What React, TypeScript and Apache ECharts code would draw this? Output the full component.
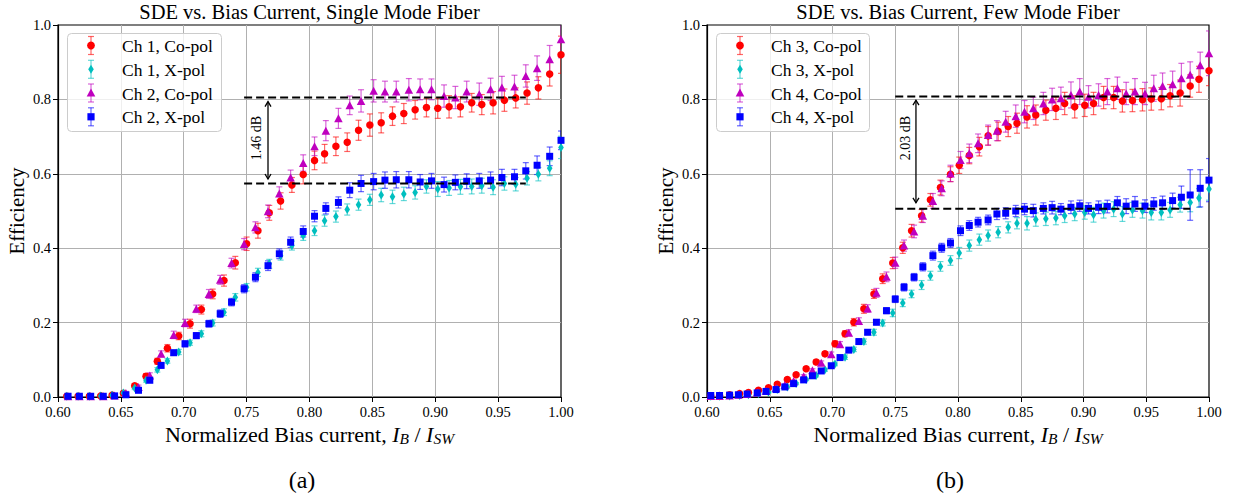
import React, { useEffect, useRef } from "react";
import * as echarts from "echarts";

// ---------- Panel (a): Single Mode Fiber ----------
const xCh1 = [1.000,0.991,0.982,0.973,0.964,0.955,0.946,0.937,0.929,0.920,0.911,0.902,0.893,0.884,0.875,0.866,0.857,0.848,0.839,0.830,0.821,0.812,0.804,0.795,0.786,0.777,0.768,0.759,0.750,0.741,0.732,0.723,0.714,0.705,0.696,0.687,0.679,0.670,0.661,0.652,0.643,0.634,0.625,0.616,0.607];
const ch1Co = [0.920,0.868,0.831,0.817,0.804,0.798,0.791,0.786,0.791,0.780,0.780,0.776,0.778,0.772,0.762,0.755,0.737,0.731,0.717,0.685,0.674,0.654,0.636,0.598,0.570,0.527,0.495,0.447,0.412,0.361,0.313,0.277,0.235,0.197,0.164,0.131,0.096,0.056,0.030,0.010,0.005,0.003,0.002,0.002,0.002];
const ch1CoErr = [0.05,0.032,0.03,0.03,0.027,0.03,0.03,0.027,0.025,0.027,0.03,0.027,0.025,0.025,0.027,0.025,0.027,0.03,0.027,0.025,0.025,0.025,0.025,0.025,0.02,0.022,0.02,0.02,0.018,0.017,0.015,0.013,0.012,0.012,0.01,0.01,0.008,0.007,0.006,0.005,0.004,0.003,0.003,0.003,0.003];
const ch1X = [0.671,0.615,0.599,0.588,0.572,0.574,0.564,0.568,0.566,0.565,0.562,0.559,0.566,0.550,0.546,0.538,0.543,0.530,0.517,0.504,0.485,0.474,0.447,0.434,0.407,0.380,0.358,0.335,0.295,0.268,0.228,0.199,0.170,0.146,0.121,0.097,0.073,0.045,0.024,0.011,0.005,0.003,0.002,0.002,0.002];
const ch1XErr = [0.03,0.02,0.018,0.018,0.018,0.018,0.02,0.02,0.02,0.02,0.02,0.02,0.018,0.018,0.018,0.018,0.018,0.015,0.015,0.015,0.015,0.015,0.013,0.013,0.012,0.012,0.012,0.011,0.01,0.01,0.009,0.008,0.008,0.007,0.007,0.006,0.006,0.005,0.004,0.004,0.003,0.003,0.002,0.002,0.002];

const xCh2 = [1.000,0.991,0.981,0.972,0.963,0.953,0.944,0.935,0.925,0.916,0.907,0.897,0.888,0.879,0.869,0.860,0.851,0.841,0.832,0.823,0.813,0.804,0.795,0.785,0.776,0.767,0.757,0.748,0.738,0.729,0.720,0.710,0.701,0.692,0.682,0.673,0.664,0.654,0.645,0.636,0.626,0.617,0.608];
const ch2Co = [0.962,0.908,0.884,0.863,0.835,0.832,0.827,0.814,0.821,0.805,0.809,0.827,0.827,0.826,0.821,0.821,0.823,0.796,0.784,0.749,0.716,0.674,0.629,0.590,0.547,0.499,0.456,0.411,0.360,0.315,0.277,0.237,0.199,0.167,0.116,0.058,0.027,0.011,0.004,0.002,0.002,0.002,0.002];
const ch2CoErr = [0.05,0.037,0.033,0.03,0.03,0.03,0.03,0.03,0.028,0.03,0.03,0.028,0.028,0.03,0.028,0.028,0.03,0.03,0.025,0.027,0.027,0.025,0.022,0.02,0.018,0.017,0.015,0.015,0.013,0.012,0.012,0.01,0.01,0.01,0.008,0.007,0.005,0.004,0.003,0.002,0.002,0.002,0.002];
const ch2X = [0.690,0.647,0.623,0.608,0.592,0.590,0.583,0.581,0.580,0.577,0.571,0.581,0.578,0.584,0.584,0.583,0.579,0.574,0.556,0.523,0.507,0.486,0.445,0.416,0.385,0.353,0.322,0.291,0.255,0.224,0.197,0.165,0.143,0.119,0.085,0.045,0.018,0.006,0.003,0.002,0.002,0.002,0.002];
const ch2XErr = [0.025,0.025,0.025,0.022,0.02,0.022,0.022,0.02,0.02,0.02,0.02,0.02,0.02,0.022,0.022,0.022,0.022,0.022,0.02,0.015,0.015,0.015,0.015,0.014,0.013,0.013,0.012,0.011,0.01,0.01,0.009,0.008,0.008,0.007,0.007,0.006,0.005,0.004,0.003,0.002,0.002,0.002,0.002];

// ---------- Panel (b): Few Mode Fiber ----------
const xCh3 = [1.000,0.992,0.985,0.977,0.969,0.962,0.954,0.947,0.939,0.931,0.924,0.916,0.908,0.901,0.893,0.885,0.878,0.870,0.862,0.855,0.847,0.840,0.832,0.824,0.817,0.809,0.801,0.794,0.786,0.778,0.771,0.763,0.756,0.748,0.740,0.733,0.725,0.717,0.710,0.702,0.694,0.687,0.679,0.671,0.664,0.656,0.649,0.641,0.633,0.626,0.618,0.610,0.603];
const ch3Co = [0.877,0.854,0.836,0.817,0.810,0.802,0.801,0.799,0.797,0.796,0.805,0.805,0.789,0.784,0.780,0.789,0.776,0.771,0.758,0.753,0.736,0.727,0.714,0.702,0.673,0.649,0.623,0.599,0.563,0.530,0.487,0.447,0.401,0.360,0.318,0.277,0.237,0.201,0.170,0.143,0.116,0.094,0.076,0.060,0.047,0.034,0.025,0.018,0.012,0.009,0.006,0.004,0.003];
const ch3CoErr = [0.04,0.035,0.03,0.035,0.03,0.03,0.03,0.03,0.03,0.03,0.03,0.03,0.03,0.03,0.03,0.03,0.03,0.027,0.027,0.03,0.027,0.027,0.025,0.025,0.025,0.022,0.022,0.02,0.02,0.017,0.017,0.017,0.015,0.015,0.013,0.012,0.012,0.01,0.008,0.008,0.006,0.006,0.005,0.004,0.004,0.003,0.003,0.002,0.002,0.002,0.002,0.002,0.002];
const ch3X = [0.559,0.535,0.523,0.517,0.503,0.496,0.496,0.501,0.503,0.492,0.505,0.501,0.490,0.496,0.492,0.487,0.481,0.479,0.477,0.467,0.467,0.456,0.443,0.434,0.423,0.407,0.387,0.367,0.351,0.326,0.301,0.277,0.253,0.226,0.199,0.174,0.149,0.128,0.107,0.089,0.073,0.058,0.047,0.036,0.027,0.020,0.013,0.009,0.006,0.004,0.003,0.002,0.002];
const ch3XErr = [0.03,0.025,0.025,0.02,0.02,0.02,0.02,0.02,0.02,0.02,0.02,0.02,0.02,0.018,0.018,0.018,0.018,0.018,0.018,0.018,0.015,0.015,0.015,0.015,0.015,0.015,0.015,0.013,0.013,0.012,0.012,0.01,0.01,0.01,0.008,0.008,0.007,0.006,0.006,0.005,0.004,0.004,0.003,0.003,0.003,0.002,0.002,0.002,0.002,0.002,0.002,0.002,0.002];

const xCh4 = [1.000,0.993,0.985,0.978,0.971,0.963,0.956,0.949,0.941,0.934,0.927,0.919,0.912,0.904,0.897,0.890,0.882,0.875,0.868,0.860,0.853,0.846,0.838,0.831,0.824,0.816,0.809,0.802,0.794,0.787,0.780,0.772,0.765,0.757,0.750,0.743,0.735,0.728,0.721,0.713,0.706,0.699,0.691,0.684,0.677,0.669,0.662,0.655,0.647,0.640,0.632,0.625,0.618,0.610,0.603];
const ch4Co = [0.924,0.892,0.866,0.857,0.841,0.836,0.830,0.816,0.821,0.816,0.830,0.821,0.812,0.807,0.821,0.812,0.803,0.800,0.789,0.776,0.767,0.755,0.740,0.716,0.704,0.682,0.655,0.637,0.601,0.561,0.527,0.487,0.445,0.407,0.361,0.323,0.280,0.238,0.204,0.173,0.142,0.115,0.092,0.072,0.056,0.043,0.032,0.024,0.017,0.012,0.008,0.006,0.004,0.003,0.003];
const ch4CoErr = [0.06,0.035,0.035,0.04,0.035,0.035,0.035,0.03,0.035,0.03,0.03,0.035,0.03,0.03,0.035,0.035,0.03,0.03,0.03,0.03,0.03,0.03,0.028,0.027,0.027,0.025,0.025,0.023,0.022,0.02,0.02,0.018,0.017,0.015,0.015,0.013,0.012,0.01,0.009,0.008,0.007,0.006,0.005,0.004,0.004,0.003,0.003,0.002,0.002,0.002,0.002,0.002,0.002,0.002,0.002];
const ch4X = [0.583,0.561,0.543,0.537,0.528,0.522,0.519,0.513,0.519,0.513,0.522,0.512,0.510,0.507,0.514,0.510,0.505,0.509,0.507,0.501,0.505,0.500,0.494,0.492,0.476,0.470,0.461,0.447,0.414,0.401,0.380,0.350,0.322,0.295,0.263,0.232,0.201,0.174,0.149,0.126,0.106,0.084,0.070,0.057,0.046,0.036,0.027,0.020,0.015,0.011,0.008,0.006,0.005,0.004,0.004];
const ch4XErr = [0.058,0.05,0.068,0.03,0.02,0.018,0.017,0.017,0.02,0.02,0.017,0.017,0.017,0.015,0.015,0.017,0.015,0.017,0.015,0.017,0.015,0.015,0.015,0.015,0.013,0.013,0.013,0.013,0.012,0.012,0.012,0.011,0.01,0.01,0.009,0.008,0.007,0.006,0.006,0.005,0.005,0.004,0.004,0.003,0.003,0.003,0.002,0.002,0.002,0.002,0.002,0.002,0.002,0.002,0.002];

// ---------- Annotations ----------
const dashA = [[0.748, 0.972, 0.805], [0.748, 0.972, 0.574]]; // [x1, x2, y]
const dashB = [[0.750, 0.985, 0.808], [0.750, 0.985, 0.506]];
const arrowA = [0.767, 0.794, 0.586, 0.7575, 0.696]; // [x, yTop, yBottom, textX, textY]
const arrowB = [0.7665, 0.798, 0.522, 0.7578, 0.696];
const labelA = "1.46 dB";
const labelB = "2.03 dB";

const titles = ["SDE vs. Bias Current, Single Mode Fiber", "SDE vs. Bias Current, Few Mode Fiber"];
const captions = ["(a)", "(b)"];
const legendA = ["Ch 1, Co-pol", "Ch 1, X-pol", "Ch 2, Co-pol", "Ch 2, X-pol"];
const legendB = ["Ch 3, Co-pol", "Ch 3, X-pol", "Ch 4, Co-pol", "Ch 4, X-pol"];
const xTicks = { min: 0.6, max: 1.0, interval: 0.05 };
const yTicks = { min: 0, max: 1.0, interval: 0.2 };

const FONT = "Liberation Serif, serif";
const RED = "#ff0000";
const CYAN = "#00bfbf";
const MAGENTA = "#bf00bf";
const BLUE = "#0000ff";

type Shape = "circle" | "diamond" | "triangle" | "rect";
const SYM: Record<Shape, any> = {
  circle: 7.5,
  diamond: [5.6, 9],
  triangle: [8.5, 8],
  rect: 7,
};

const GRIDS = [
  { left: 58, top: 25, width: 503, height: 372 },
  { left: 707, top: 25, width: 502, height: 372 },
];

function errRender(color: string) {
  return (params: any, api: any) => {
    const x = api.value(0);
    const p1 = api.coord([x, api.value(2)]);
    const p2 = api.coord([x, api.value(1)]);
    const cw = 3;
    const style = { stroke: color, lineWidth: 1.2, opacity: 0.6 };
    return {
      type: "group",
      children: [
        { type: "line", shape: { x1: p1[0], y1: p1[1], x2: p2[0], y2: p2[1] }, style },
        { type: "line", shape: { x1: p1[0] - cw, y1: p1[1], x2: p1[0] + cw, y2: p1[1] }, style },
        { type: "line", shape: { x1: p2[0] - cw, y1: p2[1], x2: p2[0] + cw, y2: p2[1] }, style },
      ],
    };
  };
}

function seriesPair(gi: number, name: string, xs: number[], ys: number[], es: number[], color: string, shape: Shape) {
  return [
    {
      type: "custom",
      name: name + " err",
      xAxisIndex: gi,
      yAxisIndex: gi,
      clip: true,
      silent: true,
      data: xs.map((x, i) => [x, ys[i] - es[i], ys[i] + es[i]]),
      renderItem: errRender(color),
    },
    {
      type: "scatter",
      name,
      xAxisIndex: gi,
      yAxisIndex: gi,
      clip: true,
      silent: true,
      symbol: shape,
      symbolSize: SYM[shape],
      itemStyle: { color, opacity: 1 },
      data: xs.map((x, i) => [x, ys[i]]),
    },
  ];
}

function dashSeries(gi: number, lines: number[][]) {
  return {
    type: "custom",
    xAxisIndex: gi,
    yAxisIndex: gi,
    silent: true,
    z: 10,
    data: lines,
    renderItem: (params: any, api: any) => {
      const a = api.coord([api.value(0), api.value(2)]);
      const b = api.coord([api.value(1), api.value(2)]);
      return {
        type: "line",
        shape: { x1: a[0], y1: a[1], x2: b[0], y2: b[1] },
        style: { stroke: "#000", lineWidth: 2, lineDash: [8, 4] },
      };
    },
  };
}

function arrowSeries(gi: number, arrow: number[], label: string) {
  return {
    type: "custom",
    xAxisIndex: gi,
    yAxisIndex: gi,
    silent: true,
    z: 10,
    data: [arrow],
    renderItem: (params: any, api: any) => {
      const top = api.coord([api.value(0), api.value(1)]);
      const bot = api.coord([api.value(0), api.value(2)]);
      const tp = api.coord([api.value(3), api.value(4)]);
      const st = { stroke: "#000", lineWidth: 1.3, fill: "none" };
      const h = 5, w = 3;
      return {
        type: "group",
        children: [
          { type: "line", shape: { x1: top[0], y1: top[1], x2: bot[0], y2: bot[1] }, style: st },
          { type: "polyline", shape: { points: [[top[0] - w, top[1] + h], [top[0], top[1]], [top[0] + w, top[1] + h]] }, style: st },
          { type: "polyline", shape: { points: [[bot[0] - w, bot[1] - h], [bot[0], bot[1]], [bot[0] + w, bot[1] - h]] }, style: st },
          {
            type: "text",
            x: tp[0],
            y: tp[1],
            rotation: Math.PI / 2,
            style: { text: label, fontFamily: FONT, fontSize: 14, fill: "#000", align: "center", verticalAlign: "middle" },
          },
        ],
      };
    },
  };
}

function legendEls(x0: number, w: number, labels: string[]) {
  const colors = [RED, CYAN, MAGENTA, BLUE];
  const shapes: Shape[] = ["circle", "diamond", "triangle", "rect"];
  const ys = [45.5, 69.3, 93.0, 116.8];
  const els: any[] = [
    {
      type: "rect",
      shape: { x: x0 + 0.5, y: 33.5, width: w, height: 98, r: 4 },
      style: { fill: "rgba(255,255,255,0.8)", stroke: "#cccccc", lineWidth: 1 },
      z: 100,
    },
  ];
  labels.forEach((lab, i) => {
    const y = ys[i];
    const mx = x0 + 24;
    const c = colors[i];
    const es = { stroke: c, lineWidth: 1.2, opacity: 0.6 };
    els.push({ type: "line", shape: { x1: mx, y1: y - 9, x2: mx, y2: y + 9 }, style: es, z: 101 });
    els.push({ type: "line", shape: { x1: mx - 3, y1: y - 9, x2: mx + 3, y2: y - 9 }, style: es, z: 101 });
    els.push({ type: "line", shape: { x1: mx - 3, y1: y + 9, x2: mx + 3, y2: y + 9 }, style: es, z: 101 });
    const s = shapes[i];
    if (s === "circle") els.push({ type: "circle", shape: { cx: mx, cy: y, r: 3.9 }, style: { fill: c }, z: 102 });
    if (s === "diamond") els.push({ type: "polygon", shape: { points: [[mx, y - 4.5], [mx + 2.8, y], [mx, y + 4.5], [mx - 2.8, y]] }, style: { fill: c }, z: 102 });
    if (s === "triangle") els.push({ type: "polygon", shape: { points: [[mx, y - 4.5], [mx - 4.3, y + 3.5], [mx + 4.3, y + 3.5]] }, style: { fill: c }, z: 102 });
    if (s === "rect") els.push({ type: "rect", shape: { x: mx - 3.6, y: y - 3.6, width: 7.2, height: 7.2 }, style: { fill: c }, z: 102 });
    els.push({
      type: "text",
      x: x0 + 55,
      y: y + 0.5,
      z: 102,
      style: { text: lab, fontFamily: FONT, fontSize: 17.5, fill: "#000", align: "left", verticalAlign: "middle", textAlign: "left", textVerticalAlign: "middle" },
    });
  });
  return els;
}

function xAxisOpt(gi: number) {
  return {
    type: "value",
    gridIndex: gi,
    min: xTicks.min,
    max: xTicks.max,
    interval: xTicks.interval,
    name: "{n|Normalized Bias current, }{i|I}{s|B}{n| / }{i|I}{s|SW}",
    nameLocation: "middle",
    nameGap: 23,
    nameTextStyle: {
      fontFamily: FONT,
      fontSize: 22,
      color: "#000",
      rich: {
        n: { fontFamily: FONT, fontSize: 22, color: "#000", lineHeight: 24 },
        i: { fontFamily: FONT, fontSize: 22, color: "#000", fontStyle: "italic", lineHeight: 24 },
        s: { fontFamily: FONT, fontSize: 15.5, color: "#000", fontStyle: "italic", lineHeight: 10, verticalAlign: "bottom" },
      },
    },
    axisLine: { show: true, onZero: false, lineStyle: { color: "#000", width: 1.2 } },
    axisTick: { show: true, inside: false, length: 5, lineStyle: { color: "#000", width: 1 } },
    axisLabel: {
      fontFamily: FONT,
      fontSize: 14.5,
      color: "#000",
      margin: 7,
      formatter: (v: number) => v.toFixed(2),
    },
    splitLine: { show: true, showMinLine: false, showMaxLine: false, lineStyle: { color: "#b0b0b0", width: 1 } },
  };
}

function yAxisOpt(gi: number) {
  return {
    type: "value",
    gridIndex: gi,
    min: yTicks.min,
    max: yTicks.max,
    interval: yTicks.interval,
    name: "Efficiency",
    nameLocation: "middle",
    nameRotate: 90,
    nameGap: 31,
    nameTextStyle: { fontFamily: FONT, fontSize: 21, color: "#000" },
    axisLine: { show: true, onZero: false, lineStyle: { color: "#000", width: 1.2 } },
    axisTick: { show: true, inside: false, length: 5, lineStyle: { color: "#000", width: 1 } },
    axisLabel: {
      fontFamily: FONT,
      fontSize: 14.5,
      color: "#000",
      margin: 7,
      formatter: (v: number) => v.toFixed(1),
    },
    splitLine: { show: true, showMinLine: false, showMaxLine: false, lineStyle: { color: "#b0b0b0", width: 1 } },
  };
}

function textEl(x: number, y: number, text: string, size: number) {
  return {
    type: "text",
    x,
    y,
    style: { text, fontFamily: FONT, fontSize: size, fill: "#000", align: "center", verticalAlign: "middle", textAlign: "center", textVerticalAlign: "middle" },
  };
}

export default function App() {
  const ref = useRef<HTMLDivElement>(null);
  useEffect(() => {
    document.body.style.margin = "0";
    if (!ref.current) return;
    const chart = echarts.init(ref.current, undefined, { renderer: "svg" });
    const series: any[] = [
      ...seriesPair(0, legendA[0], xCh1, ch1Co, ch1CoErr, RED, "circle"),
      ...seriesPair(0, legendA[1], xCh1, ch1X, ch1XErr, CYAN, "diamond"),
      ...seriesPair(0, legendA[2], xCh2, ch2Co, ch2CoErr, MAGENTA, "triangle"),
      ...seriesPair(0, legendA[3], xCh2, ch2X, ch2XErr, BLUE, "rect"),
      ...seriesPair(1, legendB[0], xCh3, ch3Co, ch3CoErr, RED, "circle"),
      ...seriesPair(1, legendB[1], xCh3, ch3X, ch3XErr, CYAN, "diamond"),
      ...seriesPair(1, legendB[2], xCh4, ch4Co, ch4CoErr, MAGENTA, "triangle"),
      ...seriesPair(1, legendB[3], xCh4, ch4X, ch4XErr, BLUE, "rect"),
      dashSeries(0, dashA),
      dashSeries(1, dashB),
      arrowSeries(0, arrowA, labelA),
      arrowSeries(1, arrowB, labelB),
    ];
    chart.setOption({
      animation: false,
      backgroundColor: "#fff",
      grid: GRIDS.map((g) => ({ ...g, show: true, borderColor: "#000", borderWidth: 1.2, backgroundColor: "transparent", containLabel: false })),
      xAxis: [xAxisOpt(0), xAxisOpt(1)],
      yAxis: [yAxisOpt(0), yAxisOpt(1)],
      series,
      graphic: [
        textEl(309.5, 11.5, titles[0], 20.5),
        textEl(958, 11.5, titles[1], 20.5),
        textEl(302, 480, captions[0], 24),
        textEl(950, 480, captions[1], 24),
        ...legendEls(67, 154, legendA),
        ...legendEls(716, 153, legendB),
      ],
    });
    return () => chart.dispose();
  }, []);
  return <div ref={ref} style={{ width: 1233, height: 497 }} />;
}
